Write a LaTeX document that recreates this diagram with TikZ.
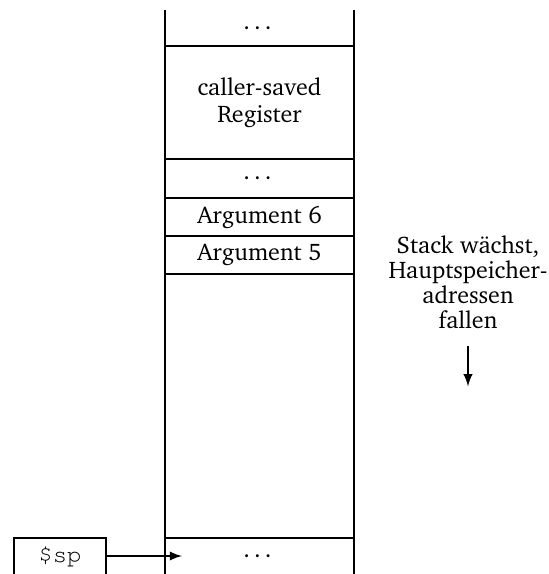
\documentclass[tikz,border=0pt]{standalone}
\usepackage[T1]{fontenc}
\usepackage{charter}
\usepackage{courier}
\usetikzlibrary{positioning}

\tikzset{
  frame/.style={draw, rectangle, line width=1.1pt, minimum width=94.5pt,
                inner sep=0pt, outer sep=0pt, align=center},
  openbox/.style={rectangle, inner sep=0pt, outer sep=0pt}
}

\begin{document}
\begin{tikzpicture}[>=latex, line width=1.1pt, font=\fontsize{12}{13.5}\selectfont]
\useasboundingbox (0,-287pt) rectangle (274pt,0);

\node[openbox, minimum width=94.5pt, minimum height=18pt] (top) at (129.75pt,-14pt) {\dots};
\draw (top.north west) -- (top.south west) -- (top.south east) -- (top.north east);

\node[frame, minimum height=56.5pt, below=0pt of top] (callersaved) {caller-saved\\Register};
\node[frame, minimum height=19.5pt, below=0pt of callersaved] (dots) {\dots};
\node[frame, minimum height=19pt, below=0pt of dots] (arg6) {Argument 6};
\node[frame, minimum height=19pt, below=0pt of arg6] (arg5) {Argument 5};
\node[frame, minimum height=132pt, below=0pt of arg5] (free) {};
\node[openbox, minimum width=94.5pt, minimum height=18pt, below=0pt of free] (bot) {\dots};
\draw (bot.south west) -- (bot.north west) -- (bot.north east) -- (bot.south east);

% stack pointer
\node[openbox, minimum width=46pt, minimum height=18pt] (sp) at (30pt,-278pt) {\texttt{\$sp}};
\draw (sp.south west) -- (sp.north west) -- (sp.north east) -- (sp.south east);
\coordinate[right=8.5pt of bot.west] (sptip);
\draw[->] (sp.east) -- (sptip);

% direction of growth
\node[align=center, font=\fontsize{12}{12.5}\selectfont] (grow) at (234pt,-141pt) {Stack w\"achst,\\Hauptspeicher-\\adressen\\fallen};
\coordinate[below=25pt of grow.south] (growtip);
\draw[->] ([yshift=-5pt]grow.south) -- (growtip);
\end{tikzpicture}
\end{document}
